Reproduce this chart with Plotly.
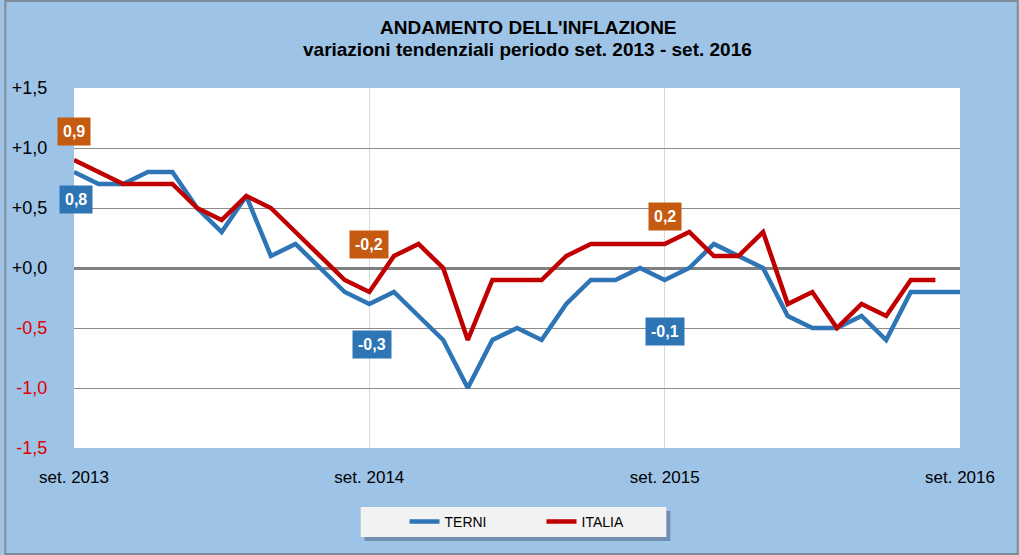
import plotly.graph_objects as go

# ---- data ----
months = list(range(37))  # set. 2013 ... set. 2016
tick_vals = [0, 12, 24, 36]
tick_text = ["set. 2013", "set. 2014", "set. 2015", "set. 2016"]

terni = [0.8, 0.7, 0.7, 0.8, 0.8, 0.5, 0.3, 0.6, 0.1, 0.2, 0.0, -0.2, -0.3,
         -0.2, -0.4, -0.6, -1.0, -0.6, -0.5, -0.6, -0.3, -0.1, -0.1, 0.0, -0.1,
         0.0, 0.2, 0.1, 0.0, -0.4, -0.5, -0.5, -0.4, -0.6, -0.2, -0.2, -0.2]
italia = [0.9, 0.8, 0.7, 0.7, 0.7, 0.5, 0.4, 0.6, 0.5, 0.3, 0.1, -0.1, -0.2,
          0.1, 0.2, 0.0, -0.6, -0.1, -0.1, -0.1, 0.1, 0.2, 0.2, 0.2, 0.2,
          0.3, 0.1, 0.1, 0.3, -0.3, -0.2, -0.5, -0.3, -0.4, -0.1, -0.1]

y_ticks = [1.5, 1.0, 0.5, 0.0, -0.5, -1.0, -1.5]

BLUE = "#2E75B6"
RED = "#C00000"
ORANGE = "#C55A11"
BG = "#9DC3E6"
FONT = "Liberation Sans, Arial"

def fmt(v):
    return f"{v:.1f}".replace(".", ",")

def fmt_tick(v):
    s = f"{v:+.1f}".replace(".", ",")
    if v < 0:
        return f'<span style="color:#E00000">{s}</span>'
    return s

L, R, T, B = 70, 59, 88, 107
W, H = 1019, 555
PW, PH = W - L - R, H - T - B
def px_x(p):
    return (p - L) / PW
def px_y(p):
    return (H - B - p) / PH

fig = go.Figure()
fig.add_trace(go.Scatter(x=months[:len(terni)], y=terni, mode="lines", name="TERNI",
                         line=dict(color=BLUE, width=4.5)))
fig.add_trace(go.Scatter(x=months[:len(italia)], y=italia, mode="lines", name="ITALIA",
                         line=dict(color=RED, width=4.5)))

# labelled points: (series, index, colour, y-offset, x-offset)
labels = [
    (italia, 0, ORANGE, 0.24, 0.0),
    (terni, 0, BLUE, -0.23, 0.1),
    (italia, 12, ORANGE, 0.4, 0.0),
    (terni, 12, BLUE, -0.34, 0.1),
    (italia, 24, ORANGE, 0.23, 0.0),
    (terni, 24, BLUE, -0.43, 0.0),
    (terni, 36, BLUE, -0.27, 0.6),
]
for series, i, col, dy, dx in labels:
    fig.add_annotation(x=months[i] + dx, y=series[i] + dy, xref="x", yref="y",
                       text=f"<b>{fmt(series[i])}</b>", showarrow=False,
                       font=dict(family=FONT, size=16, color="white"),
                       bgcolor=col, borderpad=5)

# titles
title_font = "Liberation Sans Narrow, Arial Narrow, Liberation Sans, Arial"
fig.add_annotation(x=px_x(527), y=px_y(28), xref="paper", yref="paper",
                   xanchor="center", yanchor="middle", showarrow=False,
                   text="<b>ANDAMENTO DELL'INFLAZIONE</b>",
                   font=dict(family=title_font, size=19, color="black"))
fig.add_annotation(x=px_x(526), y=px_y(50), xref="paper", yref="paper",
                   xanchor="center", yanchor="middle", showarrow=False,
                   text="<b>variazioni tendenziali periodo set. 2013 - set. 2016</b>",
                   font=dict(family=title_font, size=19, color="black"))

# outer border
fig.add_shape(type="rect", xref="paper", yref="paper",
              x0=px_x(1), x1=px_x(W - 1), y0=px_y(H - 1), y1=px_y(1),
              line=dict(color="#7F8C99", width=2), fillcolor="rgba(0,0,0,0)", layer="above")
# legend box with shadow
fig.add_shape(type="rect", xref="paper", yref="paper",
              x0=px_x(362), x1=px_x(669), y0=px_y(541), y1=px_y(511),
              line=dict(width=0), fillcolor="rgba(60,80,110,0.45)", layer="below")
fig.add_shape(type="rect", xref="paper", yref="paper",
              x0=px_x(358), x1=px_x(665), y0=px_y(537), y1=px_y(507),
              line=dict(width=0), fillcolor="#F2F2F2", layer="below")

fig.update_layout(
    width=W, height=H,
    margin=dict(l=L, r=R, t=T, b=B),
    paper_bgcolor=BG, plot_bgcolor="white",
    showlegend=True,
    legend=dict(orientation="h", x=px_x(402), xanchor="left", y=px_y(522), yanchor="middle",
                bgcolor="rgba(0,0,0,0)", font=dict(family=FONT, size=14, color="black"),
                entrywidth=92, itemwidth=30, traceorder="normal"),
    xaxis=dict(range=[0, 36], tickvals=tick_vals, ticktext=tick_text,
               showgrid=True, gridcolor="#D9D9D9", gridwidth=1, zeroline=False,
               showline=False, ticks="outside", ticklen=14, tickcolor="rgba(0,0,0,0)",
               tickfont=dict(family=FONT, size=17, color="black")),
    yaxis=dict(range=[-1.5, 1.5], tickvals=y_ticks, ticktext=[fmt_tick(v) for v in y_ticks],
               showgrid=True, gridcolor="#8C8C8C", gridwidth=1,
               zeroline=True, zerolinecolor="#808080", zerolinewidth=3,
               showline=False, ticks="outside", ticklen=22, tickcolor="rgba(0,0,0,0)",
               tickfont=dict(family=FONT, size=18, color="black")),
)

fig.write_html("out.html", config={"displayModeBar": False},
               post_script="document.body.style.margin='0';document.body.style.overflow='hidden';")
